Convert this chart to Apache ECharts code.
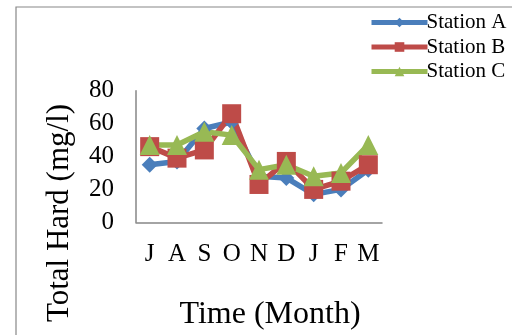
<!DOCTYPE html>
<html><head><meta charset="utf-8">
<script src="https://cdn.jsdelivr.net/npm/echarts@6/dist/echarts.min.js"></script>
<style>html,body{margin:0;padding:0;background:#fff}#c{width:512px;height:335px}</style>
</head><body><div id="c"></div>
<script>
var months = ['J','A','S','O','N','D','J','F','M'];
var stationA = [35, 37, 57, 61, 28, 27, 17, 20, 32];
var stationB = [46, 39, 44, 66, 23, 37, 20, 25, 35];
var stationC = [47, 47, 55, 53, 32, 35, 28, 30, 47];
var yTicks = [0, 20, 40, 60, 80];
var F = 'Liberation Serif, Times New Roman, serif';
var chart = echarts.init(document.getElementById('c'), null, {renderer:'canvas'});
function ser(name, data, color, symbol, size){
  return {name:name, type:'line', data:data, symbol:symbol, symbolSize:size, showAllSymbol:true,
    lineStyle:{color:color, width:5.5}, itemStyle:{color:color}, animation:false, z: 2};
}
chart.setOption({
  animation:false,
  textStyle:{fontFamily:F},
  grid:{left:136, right:130, top:90.7, bottom:112.7},
  legend:{orient:'vertical', left:364, top:7, itemWidth:56, itemHeight:12, itemGap:3.5,
    lineStyle:{width:5},
    textStyle:{fontFamily:F, fontSize:21, color:'#000', padding:[0,0,0,-6]},
    data:['Station A','Station B','Station C']},
  xAxis:{type:'category', data:months, boundaryGap:true,
    axisLine:{lineStyle:{color:'#868686', width:1.5}}, axisTick:{show:false},
    axisLabel:{interval:0, fontFamily:F, fontSize:25, color:'#000', margin:20}},
  yAxis:{type:'value', min:yTicks[0], max:yTicks[yTicks.length-1], interval:20,
    axisLine:{show:true, lineStyle:{color:'#868686', width:1.5}}, axisTick:{show:false},
    splitLine:{show:false},
    axisLabel:{fontFamily:F, fontSize:25, color:'#000', margin:22}},
  graphic:[
    {type:'rect', shape:{x:16, y:7, width:520, height:340}, style:{fill:'none', stroke:'#888', lineWidth:1.2}, silent:true},
    {type:'text', x:270, y:315, style:{text:'Time (Month)', font:'32px '+F, fill:'#000', textAlign:'center', textVerticalAlign:'middle'}},
    {type:'text', x:60, y:213, rotation:Math.PI/2, style:{text:'Total Hard (mg/l)', font:'31px '+F, fill:'#000', textAlign:'center', textVerticalAlign:'middle'}}
  ],
  series:[
    ser('Station A', stationA, '#4a7ebb', 'diamond', 16),
    ser('Station B', stationB, '#be4b48', 'rect', 19),
    ser('Station C', stationC, '#98b954', 'triangle', 20)
  ]
});
</script></body></html>
